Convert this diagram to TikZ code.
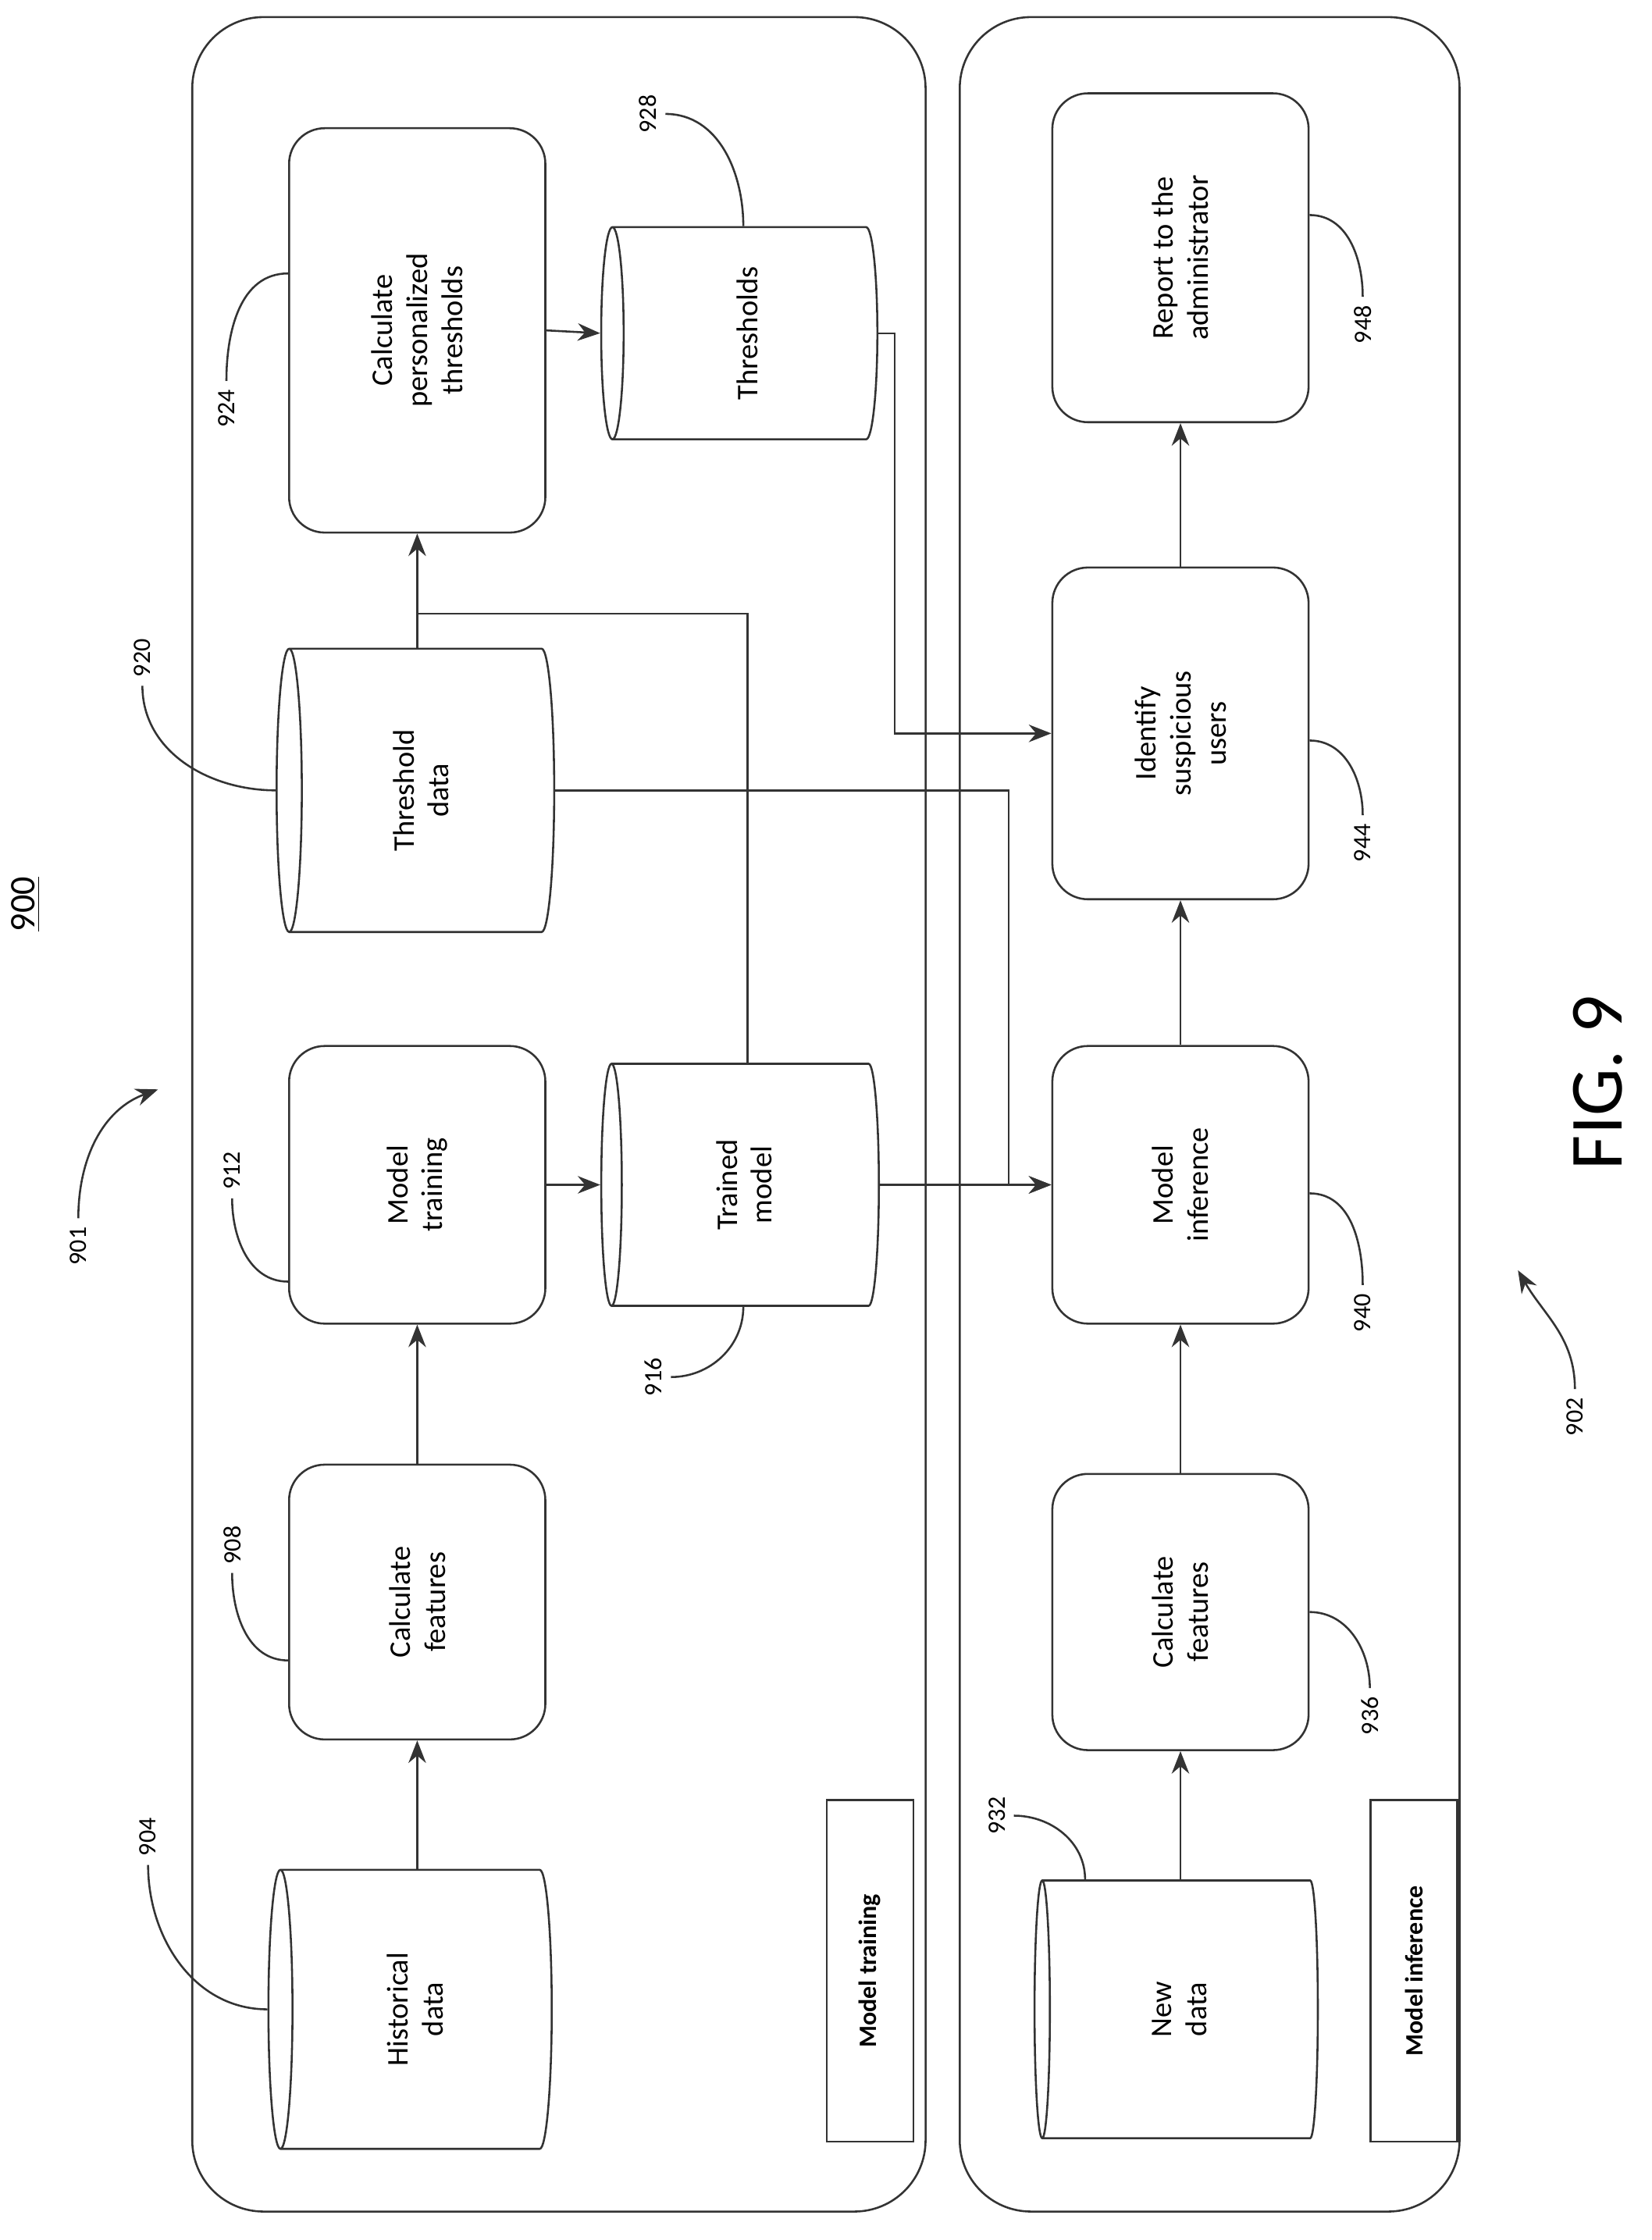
\documentclass[tikz,border=0pt]{standalone}
\usepackage{fontspec}
\setmainfont{Carlito}
\usetikzlibrary{shapes.geometric, arrows.meta, positioning, calc}

\begin{document}
\begin{tikzpicture}[
    x=0.02cm, y=-0.02cm,
    font=\large,
    % styles
    panel/.style={draw=black!80, rounded corners=1cm, thick},
    task/.style={
        draw=black!80, thick, rounded corners=0.5cm, rotate=90, align=center,
        minimum height=3.6cm
    },
    store/.style={
        draw=black!80, thick, cylinder, shape border rotate=180, aspect=0.15,
        align=center
    },
    tag/.style={draw=black!80, thick, rotate=90, font=\normalsize\bfseries,
        minimum width=4.8cm, minimum height=1.22cm},
    ref/.style={rotate=90, font=\normalsize},
    flow/.style={-{Stealth[length=9pt,width=7pt]}, thick, black!80},
    lead/.style={thick, black!80},
    vert/.style={rotate=90}
]
    \useasboundingbox (0,0) rectangle (1160,1573);

    % --- panels ---
    \draw[panel] (135,12) rectangle (650,1553);
    \draw[panel] (674,12) rectangle (1025,1553);
    \node[tag] (train_tag) at (611,1384) {Model training};
    \node[tag] (infer_tag) at (993,1384) {Model inference};

    % --- model training ---
    \node[store, minimum width=3.92cm, minimum height=3.98cm] (hist) at (294,1411)
        {\rotatebox{90}{\begin{tabular}{c}Historical\\data\end{tabular}}};
    \node[task, minimum width=3.86cm] (feat) at (293,1125) {Calculate\\features};
    \node[task, minimum width=3.9cm] (train) at (293,832) {Model\\training};
    \node[store, minimum width=3.4cm, minimum height=3.9cm] (trained) at (525,832)
        {\rotatebox{90}{\begin{tabular}{c}Trained\\model\end{tabular}}};
    \node[store, minimum width=3.98cm, minimum height=3.9cm] (thr_data) at (298,555)
        {\rotatebox{90}{\begin{tabular}{c}Threshold\\data\end{tabular}}};
    \node[task, minimum width=5.68cm] (calc_thr) at (293,232)
        {Calculate\\personalized\\thresholds};
    \node[store, minimum width=2.98cm, minimum height=3.88cm] (thr_db) at (525,234)
        {\rotatebox{90}{Thresholds}};

    % --- model inference ---
    \node[store, minimum width=3.62cm, minimum height=3.98cm] (new_data) at (830,1411)
        {\rotatebox{90}{\begin{tabular}{c}New\\data\end{tabular}}};
    \node[task, minimum width=3.88cm] (feat2) at (829,1132) {Calculate\\features};
    \node[task, minimum width=3.9cm] (infer) at (829,832) {Model\\inference};
    \node[task, minimum width=4.66cm] (ident) at (829,515) {Identify\\suspicious\\users};
    \node[task, minimum width=4.62cm] (report) at (829,181) {Report to the\\administrator};

    % --- flows (rotated boxes: west = bottom, east = top, north = left, south = right) ---
    \draw[flow] (hist.north -| feat.west) -- (feat.west);
    \draw[flow] (feat.east) -- (train.west);
    \draw[flow] (train.south) -- (trained.west);
    \draw[flow] (thr_data.north -| calc_thr.west) -- (calc_thr.west);
    \draw[thick, black!80] (trained.north) |- (calc_thr.west |- 0,431);
    \draw[flow] (calc_thr.south) -- (thr_db.west);
    \draw[flow] (thr_db.east) -| ([xshift=-2.2cm]ident.north) -- (ident.north);
    \draw[flow] (thr_data.east) -| ([xshift=-0.6cm]infer.north) -- (infer.north);
    \draw[flow] (trained.east) -- (infer.north);
    \draw[flow] (new_data.north -| feat2.west) -- (feat2.west);
    \draw[flow] (feat2.east) -- (infer.west);
    \draw[flow] (infer.east) -- (ident.west);
    \draw[flow] (ident.east) -- (report.west);

    % --- reference numerals ---
    \node[ref, font=\Large] (n900) at (18,635) {\underline{900}};
    \node[ref] (n901) at (55,875) {901};
    \node[ref] (n902) at (1106,995) {902};
    \node[ref] (n904) at (104,1290) {904};
    \node[ref] (n908) at (163,1085) {908};
    \node[ref] (n912) at (163,822) {912};
    \node[ref] (n916) at (459,967) {916};
    \node[ref] (n920) at (100,462) {920};
    \node[ref] (n924) at (159,287) {924};
    \node[ref] (n928) at (455,80) {928};
    \node[ref] (n932) at (700,1275) {932};
    \node[ref] (n936) at (962,1205) {936};
    \node[ref] (n940) at (957,922) {940};
    \node[ref] (n944) at (957,592) {944};
    \node[ref] (n948) at (957,228) {948};

    \draw[lead] (n904.west) to[out=-90, in=180] (hist.west);
    \draw[lead] (n908.west) to[out=-90, in=180] ([yshift=-0.82cm]feat.north);
    \draw[lead] (n912.west) to[out=-90, in=180] ([yshift=-1.36cm]train.north);
    \draw[lead] (n916.south) to[out=0, in=-90] ([xshift=-0.06cm]trained.south);
    \draw[lead] (n920.west) to[out=-90, in=180] (thr_data.west);
    \draw[lead] (n924.east) to[out=90, in=180] ([yshift=0.8cm]calc_thr.north);
    \draw[lead] (n928.south) to[out=0, in=90] ([xshift=-0.06cm]thr_db.north);
    \draw[lead] (n932.south) to[out=0, in=90] ([xshift=-1.36cm]new_data.north);
    \draw[lead] (n936.east) to[out=90, in=0] (feat2.south);
    \draw[lead] (n940.east) to[out=90, in=0] ([yshift=-0.12cm]infer.south);
    \draw[lead] (n944.east) to[out=90, in=0] ([yshift=-0.1cm]ident.south);
    \draw[lead] (n948.east) to[out=90, in=0] ([yshift=0.6cm]report.south);
    \draw[lead, -{Stealth[length=9pt,width=7pt]}] (n901.east) to[out=90, in=200] (111,765);
    \draw[lead, -{Stealth[length=9pt,width=7pt]}] (n902.east) to[out=90, in=-60] (1066,892);

    \node[vert, font=\fontsize{30}{36}\selectfont] (fig) at (1122,760) {FIG. 9};
\end{tikzpicture}
\end{document}
